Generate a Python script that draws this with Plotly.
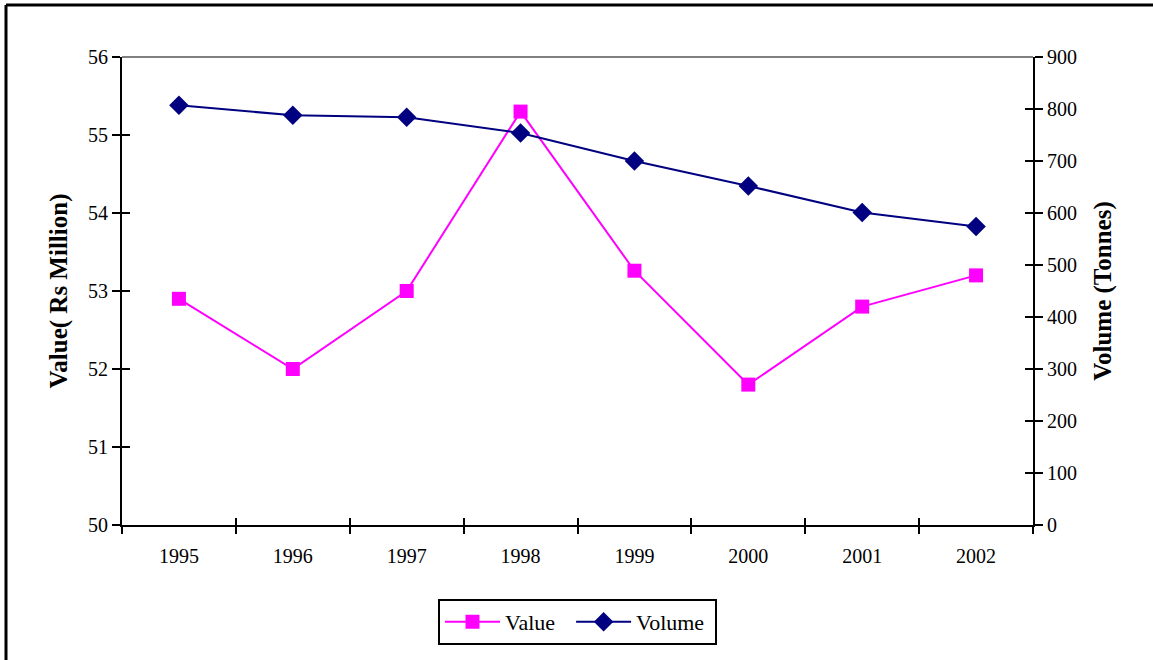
import plotly.graph_objects as go

years = ["1995", "1996", "1997", "1998", "1999", "2000", "2001", "2002"]
value_rs_million = [52.9, 52.0, 53.0, 55.3, 53.26, 51.8, 52.8, 53.2]
volume_tonnes = [807, 788, 784, 754, 700, 652, 601, 574]

FONT = "Liberation Serif"

fig = go.Figure()
fig.add_trace(go.Scatter(
    x=years, y=value_rs_million, name="Value  ", mode="lines+markers",
    line=dict(color="#FF00FF", width=2),
    marker=dict(symbol="square", size=14, color="#FF00FF"),
    xaxis="x", yaxis="y"))
fig.add_trace(go.Scatter(
    x=years, y=volume_tonnes, name="Volume ", mode="lines+markers",
    line=dict(color="#000080", width=2),
    marker=dict(symbol="diamond", size=15, color="#000080"),
    xaxis="x", yaxis="y2"))

tick_font = dict(family=FONT, size=20, color="black")
fig.update_layout(
    width=1153, height=660,
    margin=dict(l=122, r=120, t=57, b=135),
    paper_bgcolor="white", plot_bgcolor="white",
    font=dict(family=FONT, size=20, color="black"),
    showlegend=True,
    legend=dict(orientation="h", x=0.5, xanchor="center", y=-0.158, yanchor="top",
                bordercolor="black", borderwidth=2, font=dict(family=FONT, size=22),
                itemwidth=55, tracegroupgap=0),
    xaxis=dict(type="category", categoryarray=years, tickson="boundaries",
               range=[-0.5, 7.5],
               showline=True, linecolor="black", linewidth=2, mirror=False,
               ticks="outside", ticklen=7, tickwidth=2, tickcolor="black",
               ticklabelstandoff=12,
               showgrid=False, tickfont=tick_font, zeroline=False),
    yaxis=dict(range=[50, 56], dtick=1, showline=True, linecolor="black", linewidth=2,
               ticks="outside", ticklen=8, tickwidth=2, tickcolor="black",
               showgrid=False, zeroline=False, tickfont=tick_font,
               title=dict(text="<b>Value( Rs Million)</b>", font=dict(family=FONT, size=25), standoff=13)),
    yaxis2=dict(range=[0, 900], dtick=100, overlaying="y", side="right",
                showline=True, linecolor="black", linewidth=2,
                ticks="outside", ticklen=8, tickwidth=2, tickcolor="black",
                showgrid=False, zeroline=False, tickfont=tick_font,
                title=dict(text="<b>Volume (Tonnes)</b>", font=dict(family=FONT, size=25), standoff=17)),
    # overlay axes to give the crossing tick marks
    xaxis3=dict(overlaying="x", range=[-0.5, 7.5], tickvals=[i - 0.5 for i in range(9)],
                showticklabels=False, ticks="inside", ticklen=7, tickwidth=2, tickcolor="black",
                showgrid=False, zeroline=False, showline=False, anchor="y"),
    yaxis3=dict(overlaying="y", range=[50, 56], dtick=1, side="left", showticklabels=False,
                ticks="inside", ticklen=8, tickwidth=2, tickcolor="black",
                showgrid=False, zeroline=False, showline=False),
    yaxis4=dict(overlaying="y", range=[0, 900], dtick=100, side="right", showticklabels=False,
                ticks="inside", ticklen=8, tickwidth=2, tickcolor="black",
                showgrid=False, zeroline=False, showline=False),
)
# dummy invisible traces to activate overlay axes
fig.add_trace(go.Scatter(x=[0], y=[None], xaxis="x3", yaxis="y3", showlegend=False, hoverinfo="skip"))
fig.add_trace(go.Scatter(x=[0], y=[None], xaxis="x3", yaxis="y4", showlegend=False, hoverinfo="skip"))

# gray top line of plot area
fig.add_shape(type="line", xref="paper", yref="paper", x0=0, x1=1, y0=1, y1=1,
              line=dict(color="#808080", width=2), layer="below")
# outer frame (cropped on right and bottom)
fx = -116 / 911
fy = 1 + 52 / 468
fig.add_shape(type="line", xref="paper", yref="paper", x0=fx, x1=1.2, y0=fy, y1=fy,
              line=dict(color="black", width=3))
fig.add_shape(type="line", xref="paper", yref="paper", x0=fx, x1=fx, y0=fy, y1=-0.4,
              line=dict(color="black", width=3))

fig.write_html("out.html", config={"displayModeBar": False},
               post_script="document.body.style.margin='0px';")
